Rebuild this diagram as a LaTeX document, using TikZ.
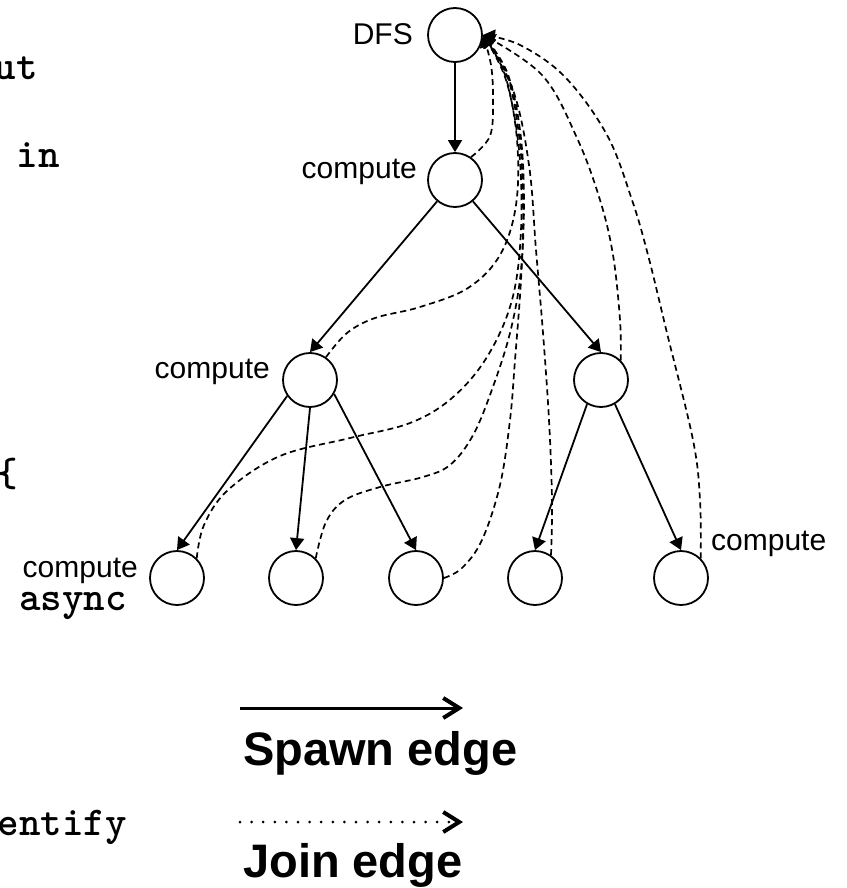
\documentclass[tikz,border=0pt]{standalone}
\usepackage{fontspec}
\setmainfont{Liberation Sans}
\usetikzlibrary{arrows.meta}
\tikzset{
  vtx/.style={circle, draw, line width=1.8pt, minimum size=54pt, inner sep=0pt},
  spawn/.style={line width=1.8pt, -{Triangle[length=12pt,width=14pt]}},
  joinedge/.style={line width=1.7pt, dash pattern=on 6pt off 4pt, -{Triangle[length=12pt,width=14pt]}},
  lbl/.style={font=\fontsize{30}{36}\selectfont, inner sep=0pt},
  code/.style={font=\ttfamily\bfseries\fontsize{41}{46}\selectfont, inner sep=0pt},
  legendtxt/.style={font=\bfseries\fontsize{47}{56}\selectfont, inner sep=0pt},
  legendarrow/.style={-{Straight Barb[length=16pt,width=20pt,line width=4pt]}},
}
\begin{document}
\begin{tikzpicture}[x=1pt,y=-1pt]
\useasboundingbox (0,0) rectangle (846,888);

% vertices
\node[vtx] (dfs) at (455,35) {};
\node[vtx] (n1) at (455,180) {};
\node[vtx] (n2) at (310,380) {};
\node[vtx] (r2) at (601,380) {};
\node[vtx] (l1) at (177,578) {};
\node[vtx] (l2) at (296,578) {};
\node[vtx] (l3) at (416,578) {};
\node[vtx] (l4) at (535,578) {};
\node[vtx] (l5) at (681,578) {};

% labels
\node[lbl, anchor=base east] (tdfs) at (413,45) {DFS};
\node[lbl, anchor=base east] (tn1) at (417,178) {compute};
\node[lbl, anchor=base east] (tn2) at (270,378) {compute};
\node[lbl, anchor=base west] (tl5) at (711,550) {compute};
\node[lbl, anchor=base east, text depth=0.15em] (tl1) at (138,577) {compute};

% code fragments (cut off at left edge, as in the reference)
\node[code, anchor=base east] (c1) at (38,80) {ut};
\node[code, anchor=base east] (c2) at (60,167) {in};
\node[code, anchor=base west] (c3) at (-4,486) {\{};
\node[code, anchor=base, text height=0.45em, text depth=0.2em] (c4) at (73,610) {async};
\node[code, anchor=base east] (c5) at (127,835) {entify};

% spawn edges
\draw[spawn] (dfs) -- (n1);
\draw[spawn] (n1.230) -- (n2.north);
\draw[spawn] (n1.-50) -- (r2.north);
\draw[spawn] (n2.215) -- (l1.north);
\draw[spawn] (n2.south) -- (l2.north);
\draw[spawn] (n2.-30) -- (l3.north);
\draw[spawn] (r2.240) -- (l4.north);
\draw[spawn] (r2.-60) -- (l5.north);

% join edges
\draw[joinedge] plot[smooth, tension=0.6] coordinates {(n1.55) (490,136) (493,100) (491,65) (dfs.east)};
\draw[joinedge] plot[smooth, tension=0.6] coordinates {(n2.55) (347,333) (375,318) (420,307) (468,288) (500,255) (516,205) (517,140) (505,75) (dfs.east)};
\draw[joinedge] plot[smooth, tension=0.6] coordinates {(l1.45) (204,525) (228,490) (280,456) (350,438) (410,423) (452,398) (487,357) (512,300) (521,230) (519,150) (506,80) (dfs.east)};
\draw[joinedge] plot[smooth, tension=0.6] coordinates {(l2.45) (326,522) (345,500) (380,487) (423,477) (450,465) (472,437) (490,395) (510,333) (521,270) (523,200) (519,135) (507,75) (dfs.east)};
\draw[joinedge] plot[smooth, tension=0.6] coordinates {(l3.east) (462,568) (482,540) (500,485) (510,420) (515,360) (521,280) (524,200) (520,130) (507,72) (dfs.east)};
\draw[joinedge] plot[smooth, tension=0.6] coordinates {(l4.55) (552,500) (549,420) (543,333) (536,250) (529,165) (513,90) (dfs.east)};
\draw[joinedge] plot[smooth, tension=0.6] coordinates {(r2.45) (620,320) (613,255) (600,200) (577,138) (542,75) (dfs.east)};
\draw[joinedge] plot[smooth, tension=0.6] coordinates {(l5.45) (700,500) (693,440) (667,333) (648,255) (632,200) (607,135) (565,77) (520,45) (dfs.east)};

% legend
\coordinate (s1) at (240,708);
\coordinate (s2) at (463,708);
\draw[legendarrow, line width=3pt] (s1) -- (s2);
\node[legendtxt, anchor=base west] (spawnlbl) at (243,765) {Spawn edge};
\coordinate (j1) at (240,822);
\coordinate (j2) at (463,822);
\draw[legendarrow, line width=3pt, line cap=round, dash pattern=on 0pt off 11.6pt] (j1) -- (j2);
\node[legendtxt, anchor=base west] (joinlbl) at (243,877) {Join edge};
\end{tikzpicture}
\end{document}
